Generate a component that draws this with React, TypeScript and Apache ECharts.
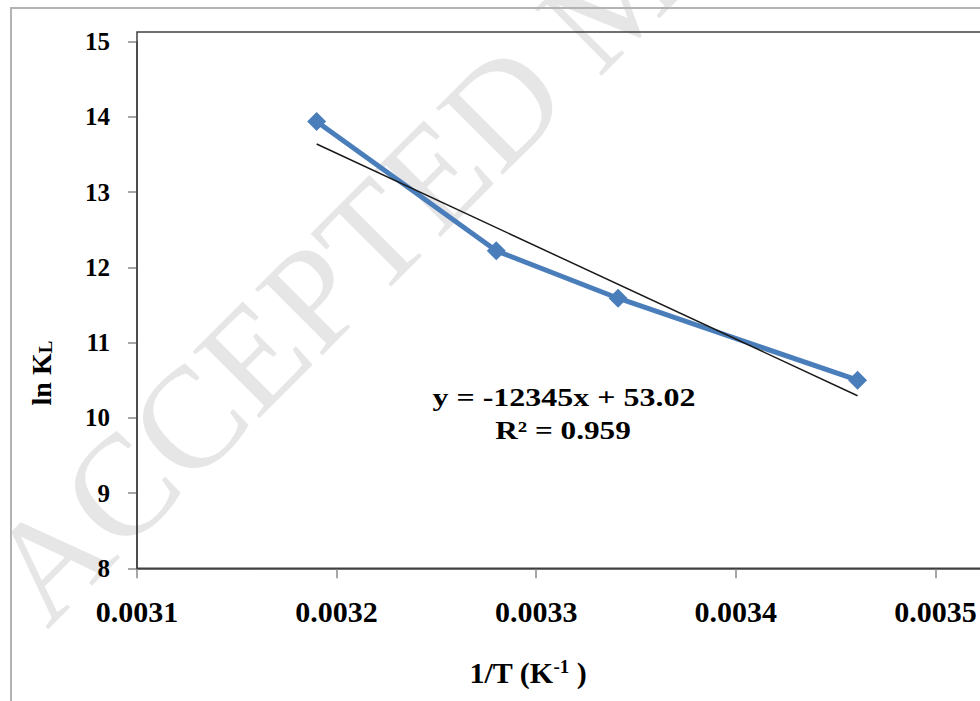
import React, { useEffect, useRef } from "react";
import * as echarts from "echarts";

// Data
const invT = [0.00319, 0.00328, 0.003341, 0.003461];
const lnKL = [13.94, 12.22, 11.59, 10.5];
const trendSlope = -12345;
const trendIntercept = 53.02;
const xTickMin = 0.0031;
const xTickMax = 0.0036;
const xTickStep = 0.0001;
const yTickMin = 8;
const yTickMax = 15;
const yTickStep = 1;
const equationText = "y = -12345x + 53.02";
const r2Text = "R² = 0.959";
const watermarkText = "ACCEPTED MANUSCRIPT";
const xTitle = "{a|1/T (K}{s|-1}{a| )}";
const yTitle = "{a|ln K}{b|L}";

const serif = "'Liberation Serif', 'Times New Roman', serif";

export default function App() {
  const ref = useRef<HTMLDivElement>(null);
  useEffect(() => {
    const chart = echarts.init(ref.current!, null, { renderer: "svg" });
    const trendX = [Math.min(...invT), Math.max(...invT)];
    const trendData = trendX.map((x) => [x, trendSlope * x + trendIntercept]);
    const pts = invT.map((x, i) => [x, lnKL[i]]);
    chart.setOption({
      animation: false,
      backgroundColor: "#ffffff",
      grid: {
        left: 137,
        top: 41.7,
        width: 998,
        height: 526.6,
        containLabel: false,
        outerBoundsMode: "none",
      },
      xAxis: {
        type: "value",
        min: xTickMin,
        max: xTickMax,
        interval: xTickStep,
        splitLine: { show: false },
        axisLine: { lineStyle: { color: "#404040", width: 1.5 } },
        axisTick: { length: 10, lineStyle: { color: "#8a8a8a", width: 1.5 } },
        axisLabel: {
          margin: 28,
          color: "#000",
          fontFamily: serif,
          fontWeight: "bold",
          fontSize: 30,
          formatter: (v: number) => v.toFixed(4),
        },
      },
      yAxis: {
        type: "value",
        min: yTickMin,
        max: yTickMax,
        interval: yTickStep,
        splitLine: { show: false },
        axisLine: { lineStyle: { color: "#404040", width: 1.5 } },
        axisTick: { length: 9, lineStyle: { color: "#8a8a8a", width: 1.5 } },
        axisLabel: {
          margin: 27,
          color: "#000",
          fontFamily: serif,
          fontWeight: "bold",
          fontSize: 25,
        },
      },
      series: [
        {
          type: "line",
          data: pts,
          symbol: "diamond",
          symbolSize: 19,
          lineStyle: { color: "#4a7ebb", width: 5 },
          itemStyle: { color: "#4a7ebb" },
          z: 3,
        },
        {
          type: "line",
          data: trendData,
          symbol: "none",
          lineStyle: { color: "#1a1a1a", width: 1.5 },
          z: 4,
        },
      ],
      graphic: [
        {
          type: "text",
          z: -10,
          x: 13,
          y: 596,
          rotation: Math.PI / 4,
          style: {
            text: watermarkText,
            fontFamily: serif,
            fontSize: 144,
            fill: "#e6e6e6",
            align: "left",
            verticalAlign: "middle",
          },
        },
        {
          type: "rect",
          z: 1,
          shape: { x: 11, y: 8, width: 1400, height: 1000 },
          style: { fill: "none", stroke: "#b3b3b3", lineWidth: 2 },
        },
        {
          type: "rect",
          z: 1,
          shape: { x: 137, y: 32, width: 1400, height: 536.3 },
          style: { fill: "none", stroke: "#404040", lineWidth: 1.5 },
        },
        {
          type: "text",
          z: 5,
          x: 564,
          y: 397,
          scaleX: 1.28,
          style: {
            text: equationText,
            fontFamily: serif,
            fontWeight: "bold",
            fontSize: 25,
            fill: "#000",
            align: "center",
            verticalAlign: "middle",
          },
        },
        {
          type: "text",
          z: 5,
          x: 563,
          y: 431,
          scaleX: 1.25,
          style: {
            text: r2Text,
            fontFamily: serif,
            fontWeight: "bold",
            fontSize: 25,
            fill: "#000",
            align: "center",
            verticalAlign: "middle",
          },
        },
        {
          type: "text",
          z: 5,
          x: 528,
          y: 672,
          style: {
            text: xTitle,
            fill: "#000",
            align: "center",
            verticalAlign: "middle",
            rich: {
              a: { fontFamily: serif, fontWeight: "bold", fontSize: 30, lineHeight: 30, fill: "#000" },
              s: { fontFamily: serif, fontWeight: "bold", fontSize: 19, lineHeight: 12, verticalAlign: "top", fill: "#000" },
            },
          },
        },
        {
          type: "text",
          z: 5,
          x: 41,
          y: 373,
          rotation: Math.PI / 2,
          style: {
            text: yTitle,
            fill: "#000",
            align: "center",
            verticalAlign: "middle",
            rich: {
              a: { fontFamily: serif, fontWeight: "bold", fontSize: 28, lineHeight: 28, fill: "#000" },
              b: { fontFamily: serif, fontWeight: "bold", fontSize: 19, lineHeight: 12, verticalAlign: "bottom", fill: "#000" },
            },
          },
        },
      ],
    });
    return () => chart.dispose();
  }, []);
  return (
    <div
      ref={ref}
      style={{ position: "absolute", left: 0, top: 0, width: 980, height: 701, overflow: "hidden" }}
    />
  );
}
